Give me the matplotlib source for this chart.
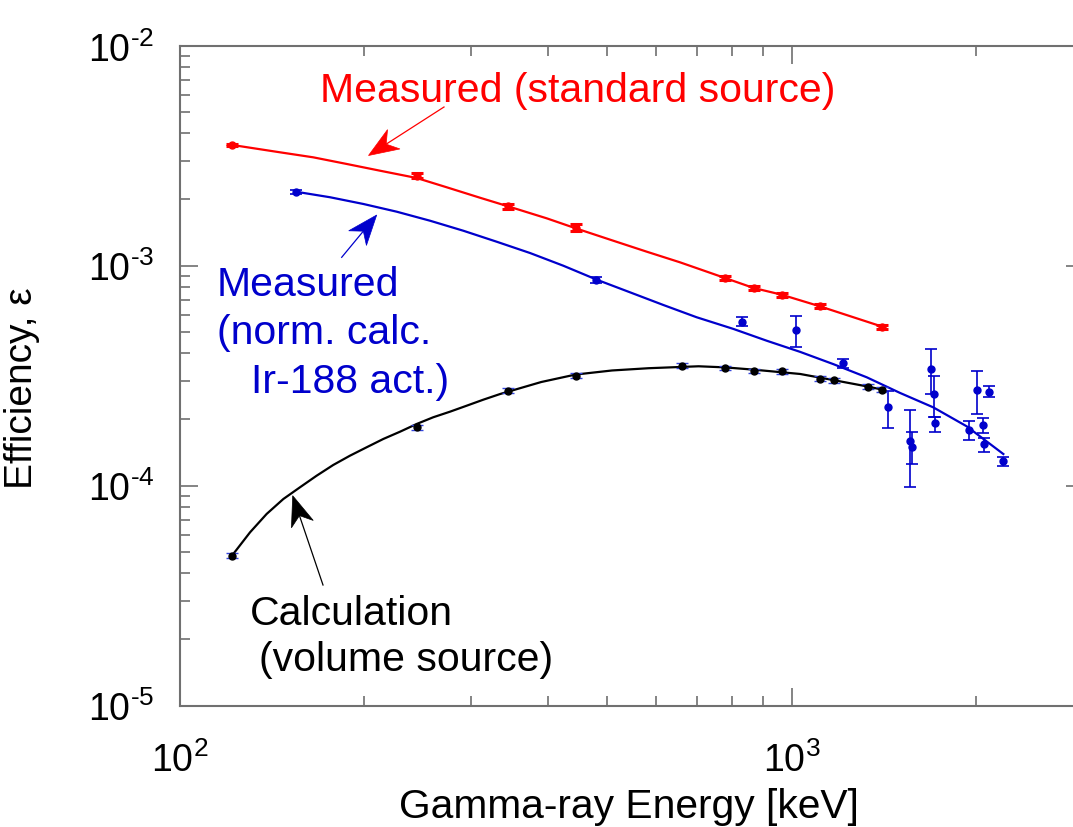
import numpy as np
import matplotlib
matplotlib.use('Agg')
import matplotlib.pyplot as plt
from matplotlib.ticker import LogLocator, NullFormatter, FuncFormatter
from matplotlib.patches import Polygon
from matplotlib.lines import Line2D

plt.rcParams['font.family'] = ['Liberation Sans', 'DejaVu Sans']
plt.rcParams['mathtext.fontset'] = 'custom'
plt.rcParams['mathtext.rm'] = 'Liberation Sans'
plt.rcParams['mathtext.it'] = 'Liberation Sans:italic'

W_PX, H_PX = 1073, 828

# Measured with the standard source (Eu-152 lines)
red_E = [121.8, 244.7, 344.3, 444.0, 778.9, 867.4, 964.1, 1112.1, 1408.0]
red_eff = [3.54e-3, 2.57e-3, 1.86e-3, 1.49e-3, 8.79e-4, 7.92e-4, 7.38e-4, 6.54e-4, 5.28e-4]
red_err = [0.05e-3, 0.07e-3, 0.05e-3, 0.05e-3, 1.8e-5, 1.6e-5, 1.5e-5, 1.3e-5, 1.1e-5]
red_fit_E = [121.8, 145.9, 165.4, 187.6, 212.6, 244.1, 273.3, 309.7, 344.2, 398.1, 444.0,
             511.4, 580.0, 657.4, 778.9, 867.4, 964.1, 1112.1, 1408.0]
red_fit_eff = [3.54e-3, 3.277e-3, 3.109e-3, 2.900e-3, 2.703e-3, 2.504e-3, 2.272e-3, 2.037e-3,
               1.862e-3, 1.642e-3, 1.479e-3, 1.299e-3, 1.158e-3, 1.036e-3, 8.79e-4, 7.92e-4,
               7.38e-4, 6.54e-4, 5.28e-4]

# Measured, normalised with calculated Ir-188 activity
blue_E = [155.0, 478.6, 831, 1018, 1212, 1438, 1564, 1576, 1690, 1710, 1718,
          1948, 2012, 2053, 2063, 2105, 2219]
blue_eff = [2.17e-3, 8.61e-4, 5.53e-4, 5.10e-4, 3.60e-4, 2.28e-4, 1.60e-4, 1.50e-4,
            3.38e-4, 2.61e-4, 1.92e-4, 1.80e-4, 2.72e-4, 1.89e-4, 1.55e-4, 2.68e-4, 1.29e-4]
blue_hi = [2.22e-3, 8.85e-4, 5.86e-4, 5.89e-4, 3.77e-4, 2.70e-4, 2.21e-4, 1.76e-4,
           4.18e-4, 3.16e-4, 2.06e-4, 1.97e-4, 3.31e-4, 2.03e-4, 1.65e-4, 2.85e-4, 1.35e-4]
blue_lo = [2.12e-3, 8.37e-4, 5.30e-4, 4.28e-4, 3.42e-4, 1.83e-4, 9.83e-5, 1.25e-4,
           2.61e-4, 2.06e-4, 1.76e-4, 1.62e-4, 2.12e-4, 1.74e-4, 1.43e-4, 2.54e-4, 1.23e-4]
blue_fit_E = [155.0, 176.2, 199.7, 226.4, 256.7, 290.9, 329.9, 373.9, 423.7, 480.5, 544.6,
              617.3, 699.8, 803.5, 911.0, 1032.5, 1170.3, 1327.3, 1504.5, 1705, 1933, 2219]
blue_fit_eff = [2.169e-3, 2.047e-3, 1.908e-3, 1.760e-3, 1.601e-3, 1.442e-3, 1.285e-3,
                1.142e-3, 1.000e-3, 8.64e-4, 7.57e-4, 6.63e-4, 5.83e-4, 5.16e-4, 4.56e-4,
                4.06e-4, 3.57e-4, 3.11e-4, 2.64e-4, 2.27e-4, 1.862e-4, 1.393e-4]

# Calculation (volume source)
black_E = [121.8, 244.7, 344.3, 444.0, 661.7, 778.9, 867.4, 964.1, 1112.1, 1173.2, 1332.5, 1408.0]
black_eff = [4.81e-5, 1.84e-4, 2.70e-4, 3.16e-4, 3.51e-4, 3.43e-4, 3.32e-4, 3.31e-4,
             3.06e-4, 3.01e-4, 2.82e-4, 2.73e-4]
black_fit_E = [122.4, 130.4, 138.8, 147.8, 157.3, 167.5, 178.3, 189.9, 202.2, 215.3, 229.3,
               244.1, 259.8, 276.7, 294.6, 313.6, 334.0, 390, 443.6, 509, 584, 705, 779,
               866, 1033, 1171, 1335, 1409]
black_fit_eff = [4.89e-5, 6.14e-5, 7.44e-5, 8.70e-5, 9.83e-5, 1.110e-4, 1.242e-4, 1.369e-4,
                 1.495e-4, 1.631e-4, 1.760e-4, 1.908e-4, 2.047e-4, 2.17e-4, 2.31e-4, 2.46e-4,
                 2.61e-4, 2.96e-4, 3.20e-4, 3.34e-4, 3.42e-4, 3.49e-4, 3.45e-4, 3.37e-4,
                 3.22e-4, 3.02e-4, 2.82e-4, 2.73e-4]

RED = '#ff0000'
BLUE = '#0000cc'
FS = 27
FS_ANN = 29.5


def fpos(x, y):
    # reference pixel position (y measured from top) -> figure fraction
    return x / W_PX, 1 - y / H_PX


def dart(tail, tip, color, L=30, W=11.5, notch=9, lw=0.9):
    tail = np.array(tail, float)
    tip = np.array(tip, float)
    u = (tip - tail) / np.hypot(*(tip - tail))
    n = np.array([-u[1], u[0]])
    base = tip - L * u
    pn = tip - (L - notch) * u
    pts = [tip, base + W * n, pn, base - W * n]
    fig.add_artist(Line2D([tail[0] / W_PX, pn[0] / W_PX], [1 - tail[1] / H_PX, 1 - pn[1] / H_PX],
                          color=color, lw=lw, transform=fig.transFigure))
    fig.add_artist(Polygon([fpos(*p) for p in pts], closed=True, facecolor=color,
                           edgecolor=color, lw=0.5, transform=fig.transFigure))


def sci_label(v, pos):
    e = int(round(np.log10(v)))
    if e < 0:
        return r'$\mathdefault{10^{\text{-}%d}}$' % (-e)
    return r'$\mathdefault{10^{%d}}$' % e


fig = plt.figure(figsize=(W_PX / 100, H_PX / 100), dpi=100)
ax = fig.add_axes([179.5 / W_PX, 121.3 / H_PX, 904 / W_PX, 660 / H_PX])

# fitted curves
ax.plot(red_fit_E, red_fit_eff, '-', color=RED, lw=1.6)
ax.plot(blue_fit_E, blue_fit_eff, '-', color=BLUE, lw=1.6)
ax.plot(black_fit_E, black_fit_eff, '-', color='black', lw=1.6)

# data points
ax.errorbar(red_E, red_eff, yerr=red_err, fmt='o', color=RED, ms=5,
            capsize=4, capthick=2.2, elinewidth=1.2)
b_eff = np.array(blue_eff)
ax.errorbar(blue_E, blue_eff, yerr=[b_eff - np.array(blue_lo), np.array(blue_hi) - b_eff],
            fmt='o', color=BLUE, ms=5, capsize=4.5, capthick=1.2, elinewidth=1.2)
k_eff = np.array(black_eff)
ax.errorbar(black_E, black_eff, yerr=0.025 * k_eff, fmt='o', color='black', ms=5,
            ecolor='#3344dd', capsize=4, capthick=1.0, elinewidth=1.0)

ax.set_xscale('log')
ax.set_yscale('log')
ax.set_xlim(100, 3000)
ax.set_ylim(1e-5, 1e-2)

ax.xaxis.set_major_locator(LogLocator(base=10))
ax.xaxis.set_minor_locator(LogLocator(base=10, subs=np.arange(2, 10)))
ax.yaxis.set_minor_locator(LogLocator(base=10, subs=np.arange(2, 10)))
ax.xaxis.set_major_formatter(FuncFormatter(sci_label))
ax.yaxis.set_major_formatter(FuncFormatter(sci_label))
ax.xaxis.set_minor_formatter(NullFormatter())
ax.yaxis.set_minor_formatter(NullFormatter())

for s in ax.spines.values():
    s.set_color('#707070')
    s.set_linewidth(1.5)
ax.tick_params(which='both', direction='in', top=True, right=True, colors='#707070',
               labelcolor='black', labelsize=FS)
ax.tick_params(which='major', length=13, width=1.2)
ax.tick_params(which='minor', length=7, width=1.2)
ax.tick_params(axis='x', which='major', pad=26)
ax.tick_params(axis='y', which='major', pad=18)

ax.set_xlabel('Gamma-ray Energy [keV]', fontsize=29.3, va='baseline')
ax.xaxis.set_label_coords(*fpos(629, 818), transform=fig.transFigure)
ax.set_ylabel('Efficiency, \u03b5', fontsize=28, va='center')
ax.yaxis.set_label_coords(*fpos(22, 388), transform=fig.transFigure)

# annotations
fig.text(*fpos(320, 102), 'Measured (standard source)', color=RED, fontsize=FS_ANN,
         ha='left', va='baseline')
dart((444, 108), (368.5, 156.5), RED)

fig.text(*fpos(217, 296), 'Measured', color=BLUE, fontsize=FS_ANN, ha='left', va='baseline')
fig.text(*fpos(217, 344.5), '(norm. calc.', color=BLUE, fontsize=FS_ANN, ha='left', va='baseline')
fig.text(*fpos(251, 393), 'Ir-188 act.)', color=BLUE, fontsize=FS_ANN, ha='left', va='baseline')
dart((341.7, 258.3), (376.7, 216), BLUE)

fig.text(*fpos(250, 625), 'Calculation', color='black', fontsize=FS_ANN, ha='left', va='baseline')
fig.text(*fpos(259, 671), '(volume source)', color='black', fontsize=FS_ANN,
         ha='left', va='baseline')
dart((323, 586), (292.7, 496.7), 'black')

fig.savefig('out.png', dpi=100)
